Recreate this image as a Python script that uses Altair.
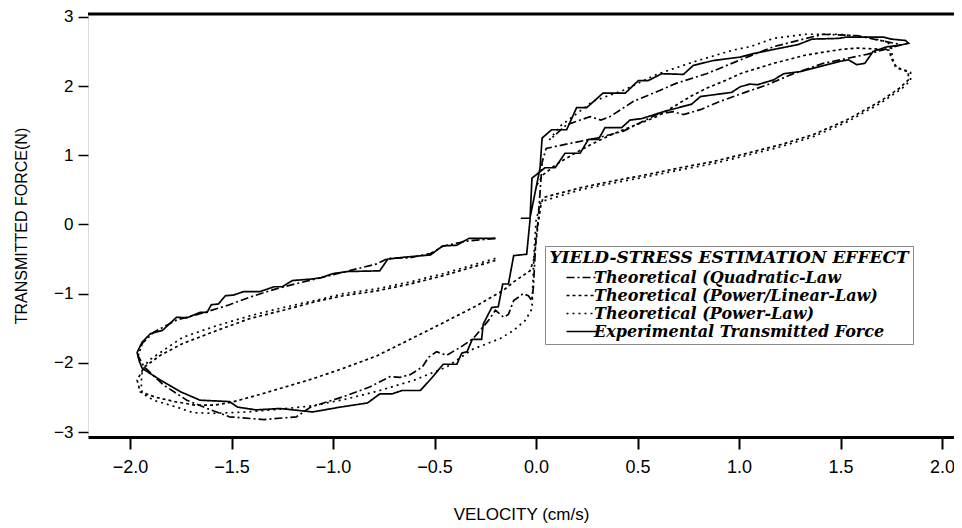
import altair as alt
import pandas as pd

# ---------------- data ----------------
series_names = [
    "Theoretical (Quadratic-Law",
    "Theoretical (Power/Linear-Law)",
    "Theoretical (Power-Law)",
    "Experimental Transmitted Force",
]

# Experimental transmitted force (solid, stepped)
exp_v = [-0.20, -0.33, -0.39, -0.46, -0.52, -0.64, -0.73, -0.77, -0.93, -1.00, -1.06, -1.11,
         -1.20, -1.25, -1.29, -1.36, -1.44, -1.49, -1.53, -1.565, -1.60, -1.62, -1.655, -1.72,
         -1.77, -1.84, -1.90, -1.94, -1.965, -1.955, -1.94,
         -1.85, -1.75, -1.655, -1.51, -1.47, -1.38, -1.26, -1.10, -0.965, -0.83, -0.77, -0.71,
         -0.66, -0.57, -0.52, -0.457, -0.39, -0.366, -0.34, -0.314, -0.268, -0.26, -0.218,
         -0.186, -0.164, -0.136, -0.11, -0.046, -0.03, -0.02,
         0.044, 0.094, 0.143, 0.217, 0.258, 0.307, 0.34, 0.422, 0.463, 0.52, 0.627, 0.767,
         0.81, 0.964, 1.005, 1.054, 1.09, 1.17, 1.22, 1.30, 1.42, 1.50, 1.54, 1.58, 1.62,
         1.66, 1.73, 1.79, 1.835, 1.82, 1.75,
         1.71, 1.63, 1.53, 1.49, 1.36, 1.29, 1.17, 1.07, 1.005, 0.873, 0.775, 0.726, 0.619,
         0.553, 0.504, 0.44, 0.33, 0.25, 0.20, 0.151, 0.077, 0.03, 0.02, -0.03, -0.075]
exp_f = [-0.20, -0.20, -0.30, -0.31, -0.44, -0.47, -0.50, -0.67, -0.68, -0.71, -0.77, -0.79,
         -0.81, -0.90, -0.90, -0.97, -0.97, -1.02, -1.03, -1.15, -1.16, -1.27, -1.27, -1.35,
         -1.34, -1.53, -1.58, -1.70, -1.85, -1.97, -2.08,
         -2.25, -2.42, -2.54, -2.56, -2.64, -2.68, -2.66, -2.71, -2.64, -2.58, -2.45, -2.45,
         -2.40, -2.40, -2.24, -2.02, -2.02, -1.86, -1.84, -1.66, -1.66, -1.44, -1.20,
         -1.19, -0.86, -0.86, -0.45, -0.43, 0.05, 0.67,
         0.82, 0.82, 1.03, 1.03, 1.23, 1.23, 1.40, 1.40, 1.51, 1.53, 1.63, 1.74,
         1.85, 1.91, 1.99, 2.03, 2.02, 2.09, 2.18, 2.21, 2.30, 2.36, 2.38, 2.31, 2.33,
         2.50, 2.57, 2.59, 2.62, 2.66, 2.68,
         2.71, 2.71, 2.71, 2.69, 2.68, 2.60, 2.53, 2.47, 2.42, 2.37, 2.30, 2.17, 2.18,
         2.08, 2.08, 1.90, 1.90, 1.69, 1.69, 1.37, 1.37, 1.25, 0.82, 0.09, 0.09]

# Theoretical, quadratic law (dash-dot)
quad_v = [-0.20, -0.34, -0.457, -0.52, -0.62, -0.73, -0.785, -0.95, -1.06, -1.16, -1.28, -1.41,
          -1.52, -1.655, -1.77, -1.885, -1.94, -1.96, -1.93,
          -1.835, -1.72, -1.62, -1.51, -1.34, -1.18, -1.11, -0.95, -0.82, -0.72, -0.67, -0.62,
          -0.56, -0.53, -0.49, -0.44, -0.37, -0.31, -0.235, -0.20, -0.16, -0.136, -0.11,
          -0.063, -0.038, -0.021, -0.013, 0.0, 0.01, 0.03, 0.05,
          0.18, 0.30, 0.43, 0.595, 0.676, 0.726, 0.81, 0.906, 1.03, 1.14, 1.25, 1.415, 1.53,
          1.63, 1.73, 1.80,
          1.73, 1.58, 1.415, 1.33, 1.17, 1.04, 0.94, 0.84, 0.69, 0.595, 0.48, 0.365, 0.32,
          0.266, 0.15, 0.077]
quad_f = [-0.20, -0.24, -0.31, -0.42, -0.48, -0.49, -0.57, -0.69, -0.77, -0.84, -0.93, -1.05,
          -1.17, -1.29, -1.38, -1.56, -1.72, -1.90, -2.06,
          -2.32, -2.54, -2.66, -2.78, -2.82, -2.78, -2.64, -2.49, -2.35, -2.20, -2.21, -2.17,
          -2.06, -1.92, -1.84, -1.89, -1.77, -1.65, -1.39, -1.24, -1.34, -1.30, -1.10,
          -1.00, -1.03, -1.10, -0.91, -0.19, 0.05, 0.90, 1.10,
          1.18, 1.25, 1.35, 1.59, 1.63, 1.59, 1.66, 1.78, 1.91, 2.02, 2.16, 2.33, 2.40,
          2.46, 2.54, 2.60,
          2.64, 2.73, 2.75, 2.69, 2.57, 2.42, 2.30, 2.18, 2.04, 1.92, 1.78, 1.56, 1.51,
          1.56, 1.44, 1.25]

# Theoretical, power/linear law (dashed)
plin_v = [-0.20, -0.457, -0.62, -0.785, -0.95, -1.08, -1.245, -1.41, -1.57, -1.74, -1.85,
          -1.93, -1.965, -1.95, -1.87, -1.78, -1.68, -1.58, -1.50, -1.34, -1.10, -0.95,
          -0.785, -0.62, -0.457, -0.29, -0.16, -0.11, -0.03, -0.01, 0.01, 0.025, 0.036,
          0.217, 0.38, 0.545, 0.71, 0.873, 1.04, 1.20, 1.366, 1.53, 1.695, 1.79, 1.834,
          1.834, 1.78, 1.75, 1.74,
          1.66, 1.58, 1.50, 1.33, 1.17, 1.005, 0.94, 0.84, 0.76, 0.676, 0.595, 0.51, 0.43,
          0.35, 0.266, 0.18, 0.10, 0.036, 0.0]
plin_f = [-0.52, -0.74, -0.86, -0.96, -1.03, -1.11, -1.24, -1.36, -1.53, -1.72, -1.89,
          -2.06, -2.25, -2.42, -2.50, -2.56, -2.61, -2.61, -2.57, -2.44, -2.23, -2.08,
          -1.90, -1.66, -1.42, -1.17, -0.95, -0.83, -0.67, -0.50, 0.0, 0.30, 0.39,
          0.53, 0.63, 0.72, 0.82, 0.91, 1.03, 1.15, 1.30, 1.51, 1.78, 1.97, 2.09,
          2.21, 2.26, 2.40, 2.52,
          2.54, 2.55, 2.53, 2.45, 2.33, 2.18, 2.09, 1.97, 1.85, 1.70, 1.56, 1.46, 1.37,
          1.27, 1.15, 1.01, 0.87, 0.72, 0.55]

# Theoretical, power law (dotted)
pow_v = [-0.20, -0.457, -0.62, -0.785, -0.95, -1.06, -1.245, -1.41, -1.57, -1.74, -1.86,
         -1.91, -1.94, -1.945, -1.94, -1.885, -1.77, -1.69, -1.59, -1.425, -1.26, -1.10,
         -0.93, -0.77, -0.60, -0.44, -0.31, -0.177, -0.11, -0.054, -0.02, -0.01, 0.0, 0.02,
         0.036,
         0.217, 0.38, 0.545, 0.71, 0.873, 1.04, 1.20, 1.366, 1.53, 1.695, 1.80, 1.845,
         1.845, 1.77, 1.755, 1.75,
         1.73, 1.63, 1.49, 1.33, 1.17, 1.054, 0.97, 0.775, 0.595, 0.43, 0.28, 0.118, 0.06]
pow_f = [-0.49, -0.71, -0.83, -0.93, -1.00, -1.08, -1.20, -1.32, -1.46, -1.63, -1.87,
         -1.97, -2.12, -2.30, -2.44, -2.54, -2.64, -2.72, -2.73, -2.71, -2.67, -2.62,
         -2.52, -2.40, -2.25, -2.06, -1.80, -1.65, -1.53, -1.39, -1.22, -0.43, 0.05, 0.30,
         0.34,
         0.50, 0.60, 0.69, 0.79, 0.88, 1.00, 1.12, 1.27, 1.48, 1.75, 1.96, 2.08,
         2.20, 2.28, 2.42, 2.58,
         2.64, 2.71, 2.75, 2.75, 2.69, 2.57, 2.52, 2.35, 2.17, 1.94, 1.78, 1.42, 1.20]

x_ticks = [-2.0, -1.5, -1.0, -0.5, 0.0, 0.5, 1.0, 1.5, 2.0]
y_ticks = [-3, -2, -1, 0, 1, 2, 3]

# ---------------- table ----------------
rows = []
for name, vs, fs in [
    (series_names[0], quad_v, quad_f),
    (series_names[1], plin_v, plin_f),
    (series_names[2], pow_v, pow_f),
    (series_names[3], exp_v, exp_f),
]:
    for i, (v, f) in enumerate(zip(vs, fs)):
        rows.append({"series": name, "kind": name, "i": i, "v": v, "f": f})
df = pd.DataFrame(rows)

W, H = 866, 423
sans = "Liberation Sans, Arial, sans-serif"
serif = "DejaVu Serif, Liberation Serif, serif"

lines = alt.Chart(df).mark_line(color="black").encode(
    x=alt.X("v:Q",
            scale=alt.Scale(domain=[-2.207, 2.059], nice=False, zero=False),
            axis=alt.Axis(values=x_ticks, format=".1f", title="VELOCITY (cm/s)",
                          grid=False, tickSize=12, tickWidth=2, tickColor="black",
                          domainColor="black", domainWidth=3,
                          labelFont=sans, labelFontSize=18, labelColor="black",
                          labelPadding=9, titleFont=sans, titleFontSize=17,
                          titleFontWeight="normal", titleColor="black", titlePadding=30)),
    y=alt.Y("f:Q",
            scale=alt.Scale(domain=[-3.072, 3.043], nice=False, zero=False),
            axis=alt.Axis(values=y_ticks, format="d", title="TRANSMITTED FORCE(N)",
                          grid=False, domain=False, tickSize=10, tickWidth=1.5,
                          tickColor="black", labelFont=sans, labelFontSize=17,
                          labelColor="black", labelPadding=5, titleFont=sans,
                          titleFontSize=16, titleFontWeight="normal", titleColor="black",
                          titlePadding=24)),
    strokeDash=alt.StrokeDash(
        "series:N",
        scale=alt.Scale(domain=series_names,
                        range=[[8, 3, 2, 3], [3, 3], [2, 4], [1, 0]]),
        legend=alt.Legend(
            title="YIELD-STRESS ESTIMATION EFFECT",
            orient="none", legendX=457, legendY=232,
            titleFont=serif, titleFontSize=17, titleFontStyle="italic",
            titleFontWeight="bold", titleColor="black", titleAnchor="middle",
            titlePadding=2, titleLimit=600,
            labelFont=serif, labelFontSize=16, labelFontStyle="italic",
            labelFontWeight="bold", labelColor="black", labelLimit=600, labelOffset=4,
            symbolType="M-2,0H2", symbolSize=225, symbolStrokeWidth=2.5,
            symbolStrokeColor="black", symbolFillColor="transparent", rowPadding=1,
            padding=4, strokeColor="#888", fillColor="white", cornerRadius=0)),
    strokeWidth=alt.StrokeWidth(
        "kind:N",
        scale=alt.Scale(domain=series_names, range=[1.7, 1.7, 2.2, 2.0]),
        legend=None),
    order="i:Q",
)

frame_top = alt.Chart(pd.DataFrame({"a": [0]})).mark_rule(
    color="black", strokeWidth=3).encode(
    x=alt.value(0), x2=alt.value(W), y=alt.value(0))

chart = alt.layer(lines, frame_top).properties(
    width=W, height=H,
    autosize=alt.AutoSizeParams(type="none"),
    padding={"left": 80, "top": 6, "right": 0, "bottom": 90},
).configure_view(stroke="#555", strokeWidth=1).configure(background="white")

chart.save("out.html", embed_options={"renderer": "svg", "actions": False})
